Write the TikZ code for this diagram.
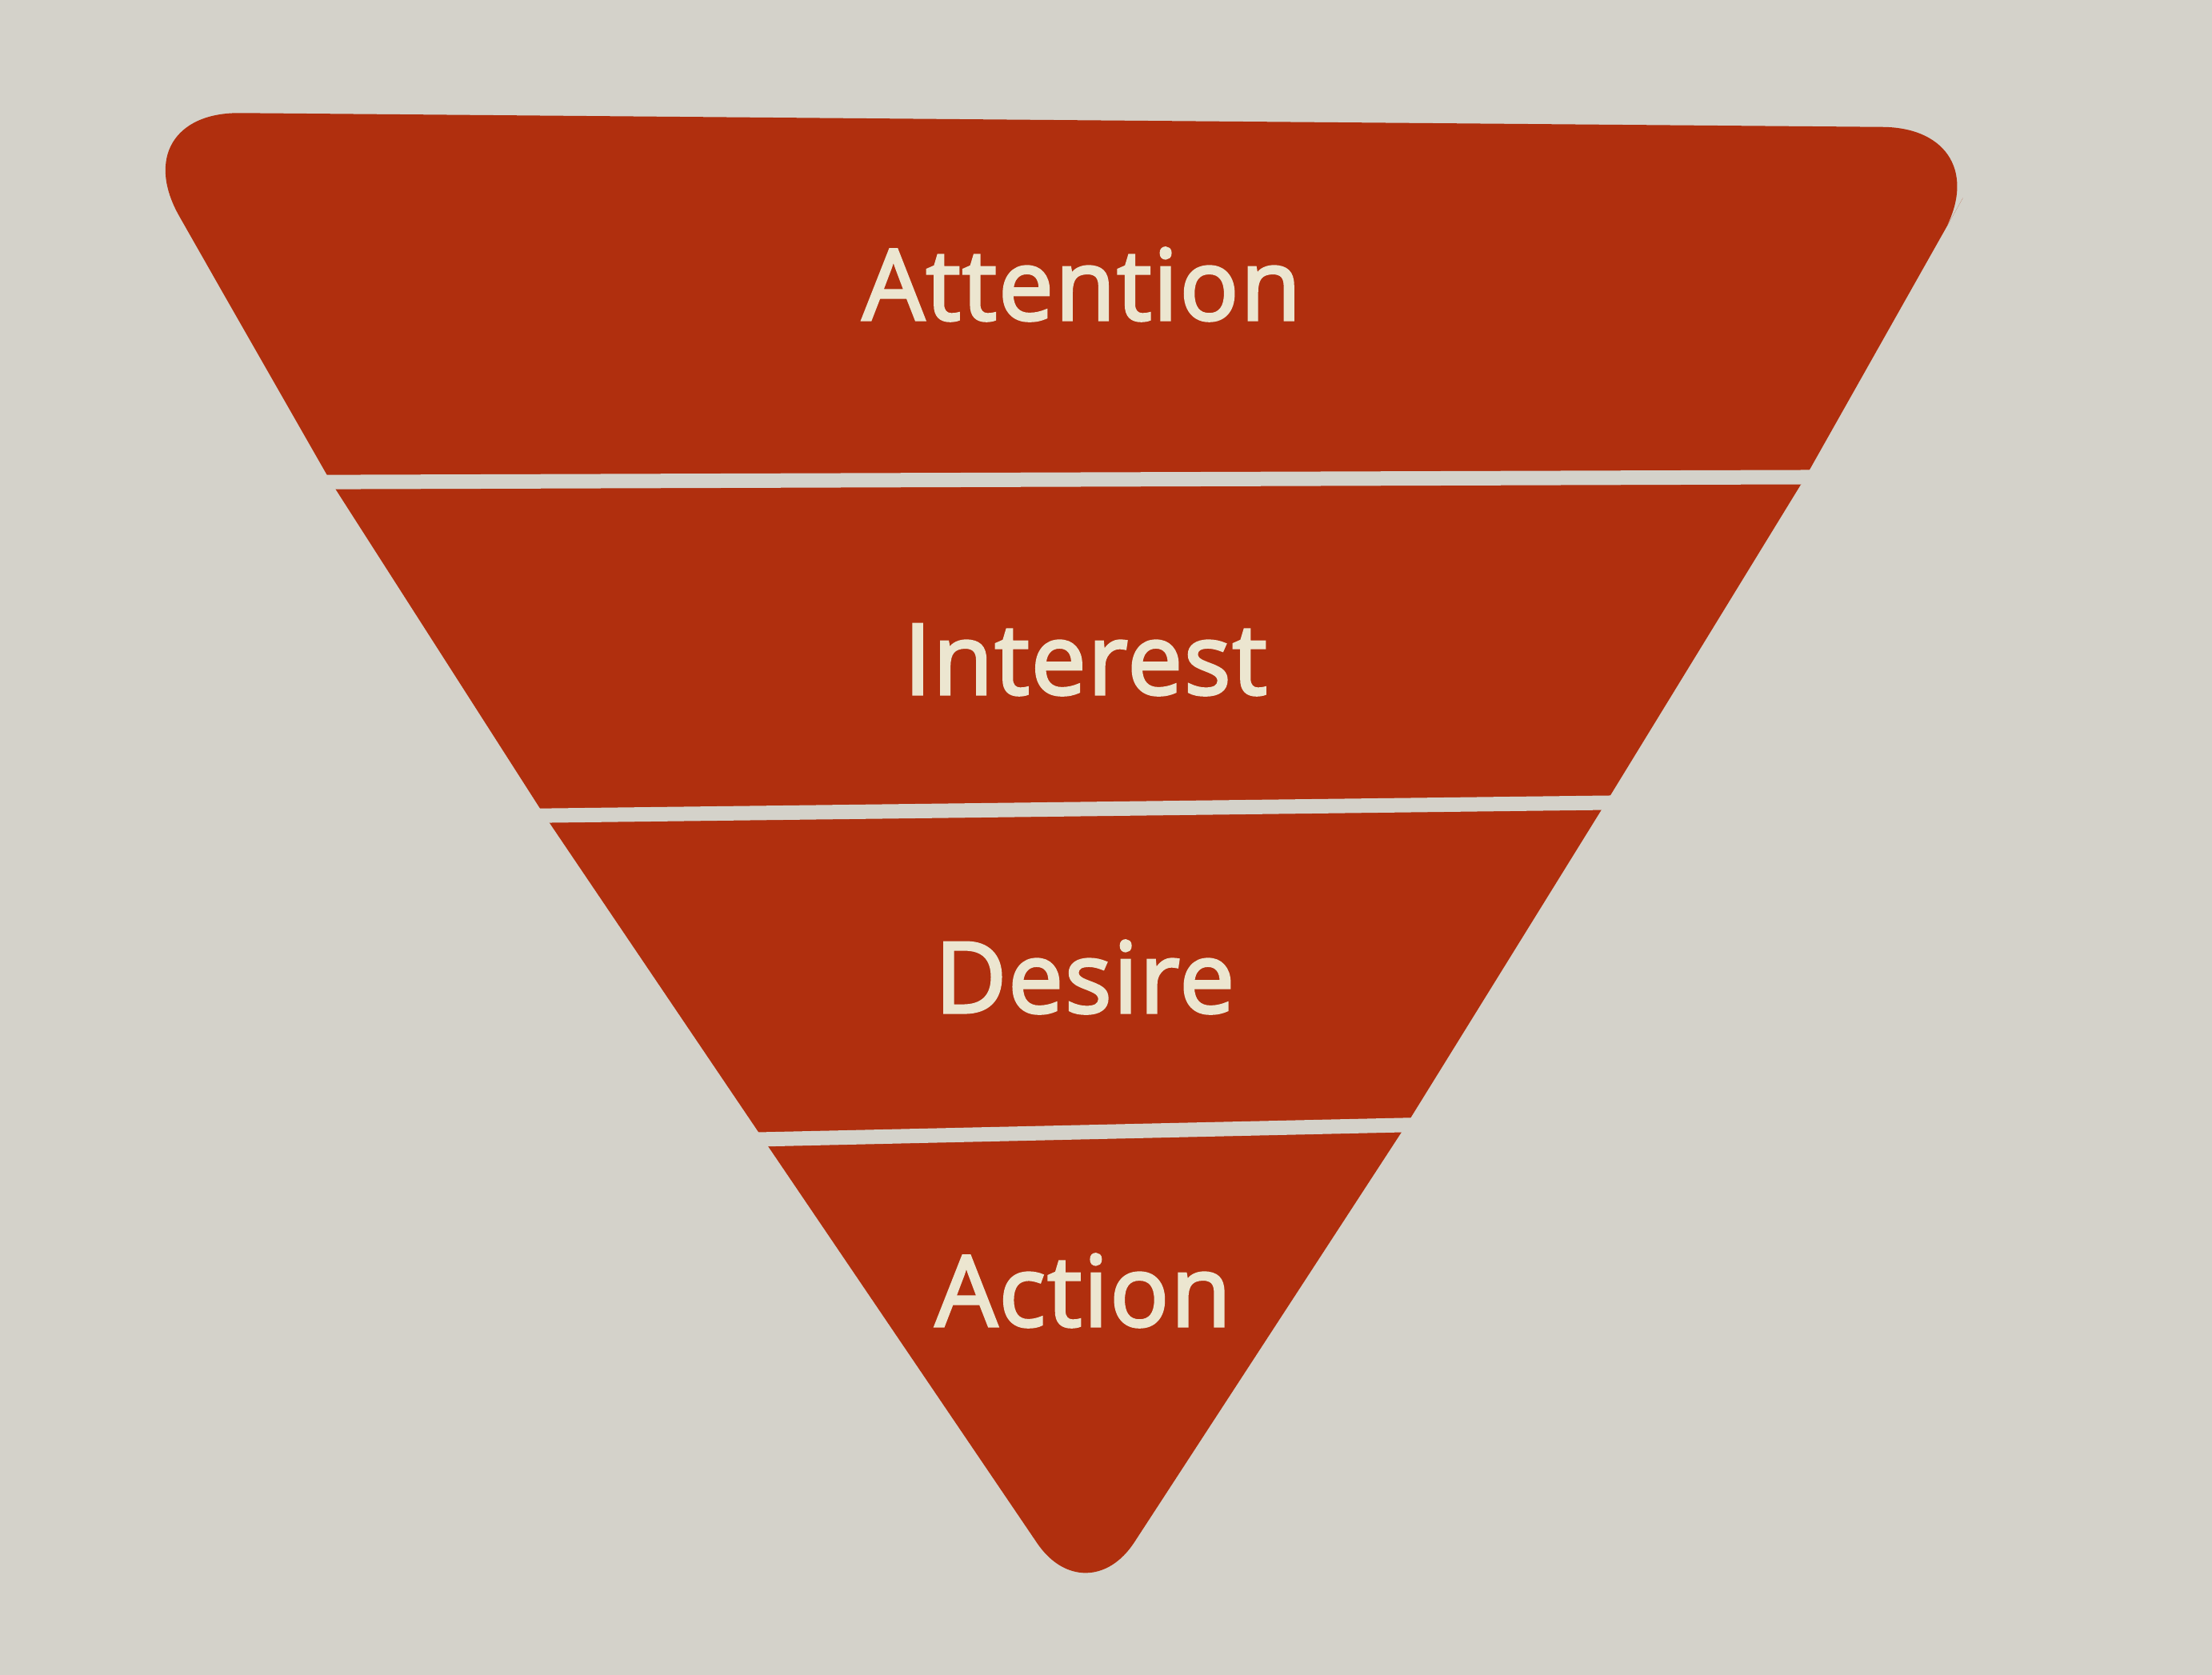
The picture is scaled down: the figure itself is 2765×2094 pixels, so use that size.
\documentclass[tikz,border=0pt]{standalone}
\usepackage{fontspec}
\setmainfont{Open Sans}
\newfontfamily\stagefont{Open Sans}[FakeBold=2.6,LetterSpace=1.5]
\usepackage{tikz}

\definecolor{paper}{RGB}{212,210,202}
\definecolor{funnelred}{RGB}{176,47,14}
\definecolor{cream}{RGB}{236,230,208}

\tikzset{
  funnel/.style={fill=funnelred,rounded corners=15mm},
  gap/.style={draw=paper,line width=1.8mm},
  stage/.style={anchor=base,inner sep=0pt,text=cream,font=\stagefont\fontsize{35pt}{40pt}\selectfont}
}

\begin{document}
\begin{tikzpicture}[x=0.1mm,y=-0.1mm]
        \fill[paper] (0,0) rectangle (2765,2094);
        \useasboundingbox (0,0) rectangle (2765,2094);

        % funnel body, sharp bends sit under the gaps
        \fill[funnel] (1316,150) -- (2503,160) -- (2380,378)
                      [sharp corners] -- (2257,596) -- (2007,1004) -- (1758,1406) -- (1558,1713)
                      [rounded corners=11mm] -- (1358,2020) -- (1156,1722)
                      [sharp corners] -- (954,1424) -- (681,1020) -- (414,603) -- (282,372)
                      [rounded corners=15mm] -- (150,140) -- cycle;

        % gaps between the stages
        \draw[gap] (300,603) -- (2400,596);
        \draw[gap] (400,1023) -- (2300,1000);
        \draw[gap] (700,1430) -- (2000,1401);

        \node[stage] (attention) at (1352,400) {Attention};
        \node[stage] (interest) at (1357,868) {Interest};
        \node[stage] (desire) at (1356,1266) {Desire};
        \node[stage] (action) at (1354,1658) {Action};
    \end{tikzpicture}
\end{document}
